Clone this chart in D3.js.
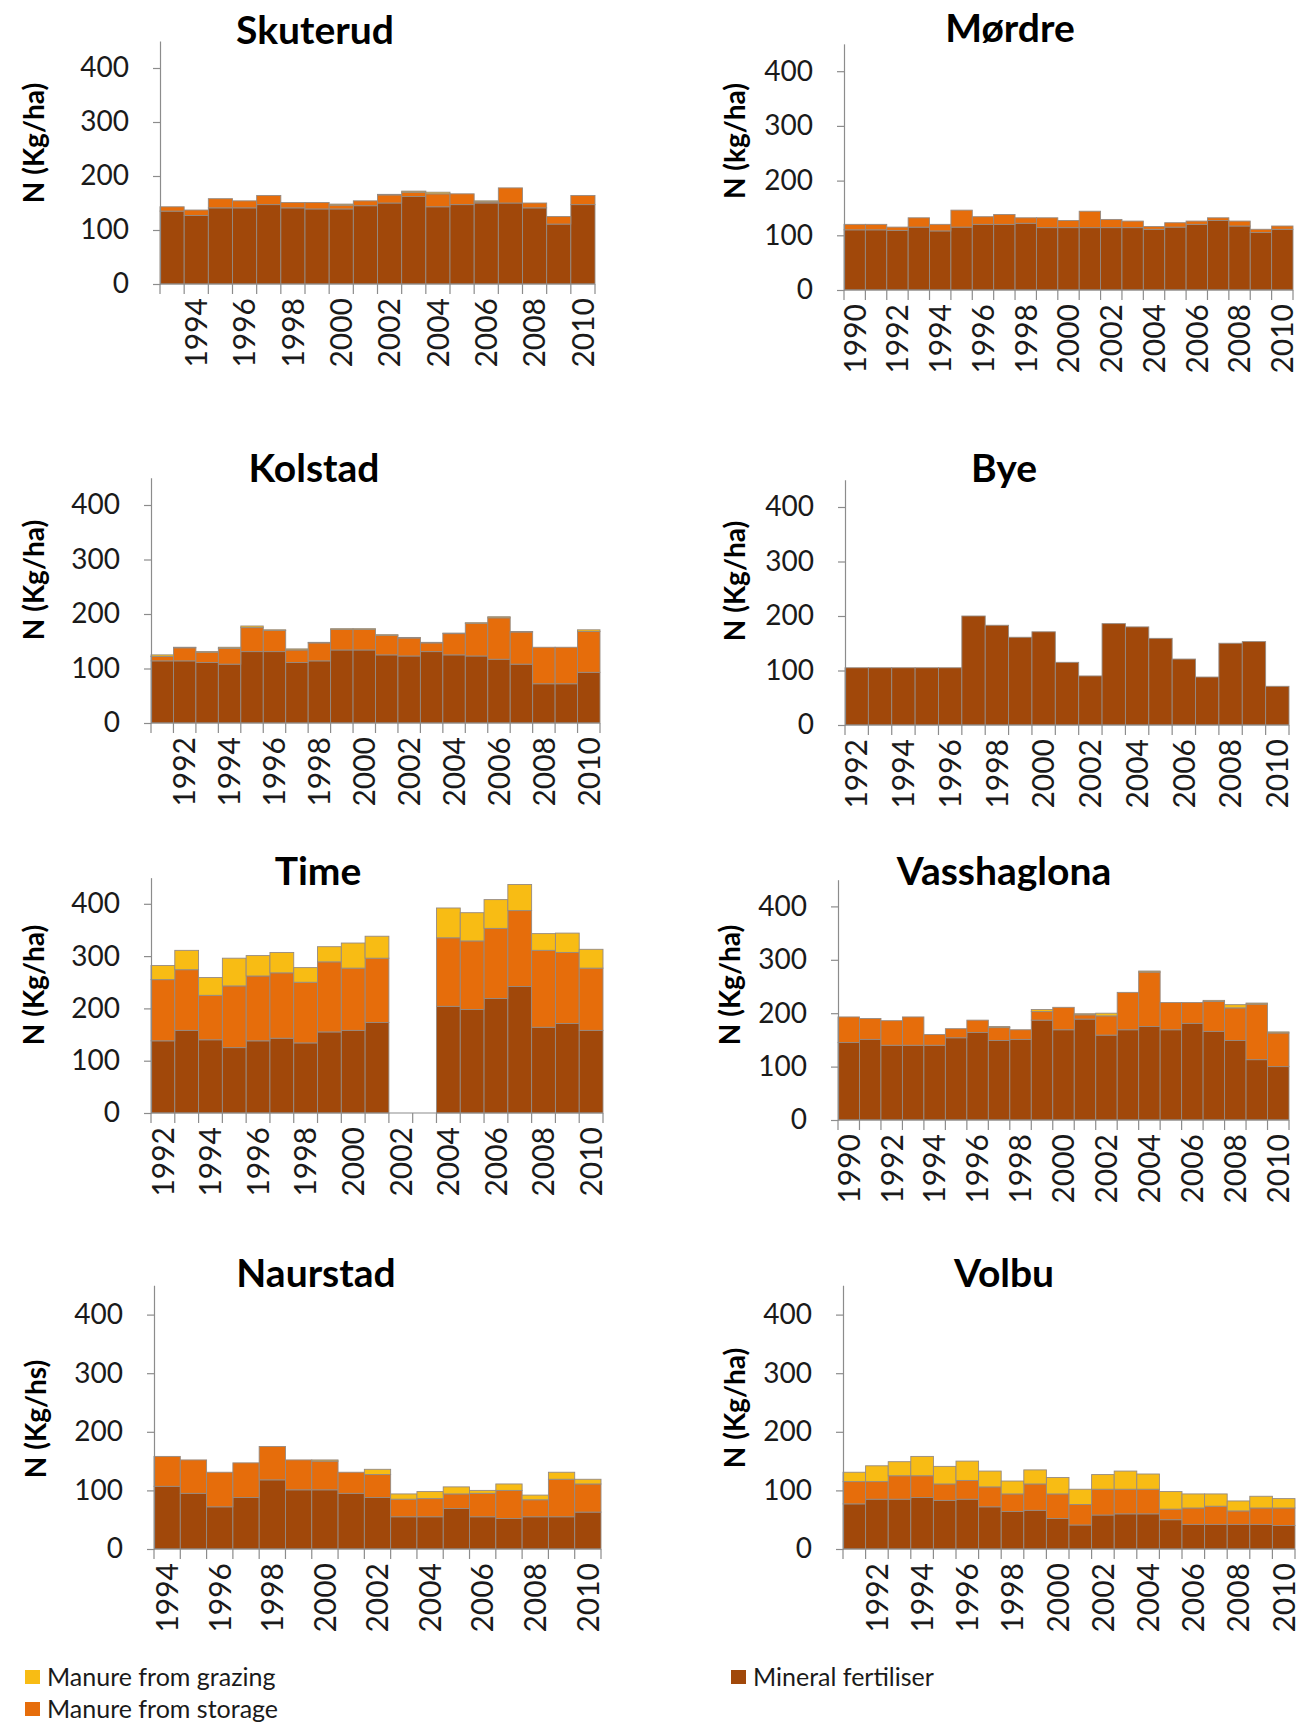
<!DOCTYPE html>
<html>
<head>
<meta charset="utf-8">
<script src="https://cdn.jsdelivr.net/npm/d3@7"></script>
<style>
  html, body { margin: 0; padding: 0; background: #fff; }
  svg { display: block; }
  text { font-family: Lato, "Open Sans", "DejaVu Sans", sans-serif; }
</style>
</head>
<body>
<svg id="chart" width="1310" height="1724"></svg>
<script>
// ---- Nitrogen inputs per catchment (kg N / ha), stacked by source ----
const seriesKeys = ["mineral", "storage", "grazing"];
const seriesNames = {
  grazing: "Manure from grazing",
  storage: "Manure from storage",
  mineral: "Mineral fertiliser"
};
const seriesColors = { grazing: "#F8BC14", storage: "#E66D0B", mineral: "#A1480A" };

// Skuterud
const skuterudYears   = [1993,1994,1995,1996,1997,1998,1999,2000,2001,2002,2003,2004,2005,2006,2007,2008,2009,2010];
const skuterudMineral = [135,127,141,141,147,141,139,139,145,150,162,143,147,150,150,141,111,147];
const skuterudStorage = [8,10,17,13,17,10,12,7,9,15,8,24,20,2,28,9,14,17];
const skuterudGrazing = [0,0,0,0,0,0,0,2,0,1,2,3,0,2,0,0,0,0];

// Mørdre
const mordreYears   = [1990,1991,1992,1993,1994,1995,1996,1997,1998,1999,2000,2001,2002,2003,2004,2005,2006,2007,2008,2009,2010];
const mordreMineral = [110,110,109,115,108,115,120,120,122,114,114,114,114,114,111,115,120,127,117,105,111];
const mordreStorage = [10,10,6,17,12,31,14,18,10,18,13,30,15,12,5,8,6,5,9,6,6];
const mordreGrazing = [0,0,0,0,0,0,0,0,0,0,0,0,0,0,0,0,0,0,0,0,0];

// Kolstad
const kolstadYears   = [1991,1992,1993,1994,1995,1996,1997,1998,1999,2000,2001,2002,2003,2004,2005,2006,2007,2008,2009,2010];
const kolstadMineral = [114,114,111,108,131,131,111,114,134,134,125,123,131,125,123,117,108,72,72,93];
const kolstadStorage = [8,24,19,29,44,39,23,33,38,38,36,33,16,39,60,76,59,67,67,75];
const kolstadGrazing = [3,1,1,2,3,1,2,1,1,1,1,1,1,1,1,2,1,0,0,3];

// Bye
const byeYears   = [1992,1993,1994,1995,1996,1997,1998,1999,2000,2001,2002,2003,2004,2005,2006,2007,2008,2009,2010];
const byeMineral = [105,105,105,105,105,200,183,161,171,115,90,186,180,159,121,88,150,153,71];
const byeStorage = [0,0,0,0,0,0,0,0,0,0,0,0,0,0,0,0,0,0,0];
const byeGrazing = [0,0,0,0,0,0,0,0,0,0,0,0,0,0,0,0,0,0,0];

// Time (no data for 2002 and 2003)
const timeYears   = [1992,1993,1994,1995,1996,1997,1998,1999,2000,2001,2002,2003,2004,2005,2006,2007,2008,2009,2010];
const timeMineral = [138,158,140,125,138,143,134,155,158,173,null,null,204,198,219,242,164,171,158];
const timeStorage = [117,116,85,118,124,125,116,134,119,123,null,null,131,131,134,145,147,136,119];
const timeGrazing = [27,37,34,53,39,39,28,29,48,42,null,null,57,54,55,50,32,37,36];

// Vasshaglona
const vassYears   = [1990,1991,1992,1993,1994,1995,1996,1997,1998,1999,2000,2001,2002,2003,2004,2005,2006,2007,2008,2009,2010];
const vassMineral = [145,151,140,140,140,154,164,149,151,187,169,189,159,169,175,169,181,166,149,113,100];
const vassStorage = [48,39,46,53,20,17,23,24,18,16,42,8,36,70,102,51,39,56,61,104,63];
const vassGrazing = [0,0,0,0,0,0,0,2,0,4,0,2,5,0,2,0,0,2,6,2,2];

// Naurstad
const naurYears   = [1994,1995,1996,1997,1998,1999,2000,2001,2002,2003,2004,2005,2006,2007,2008,2009,2010];
const naurMineral = [107,95,72,88,118,101,101,95,88,55,55,69,55,52,55,55,63];
const naurStorage = [51,57,59,59,57,51,49,36,39,30,31,25,40,48,29,64,48];
const naurGrazing = [0,0,0,0,0,0,2,0,9,9,12,12,5,11,8,12,8];

// Volbu
const volbuYears   = [1991,1992,1993,1994,1995,1996,1997,1998,1999,2000,2001,2002,2003,2004,2005,2006,2007,2008,2009,2010];
const volbuMineral = [77,85,85,88,83,85,72,64,66,52,41,58,60,60,50,42,42,42,42,40];
const volbuStorage = [38,30,40,37,28,32,34,30,45,42,35,44,42,42,18,28,31,23,28,30];
const volbuGrazing = [16,27,24,33,30,33,27,22,24,28,26,25,31,26,30,24,21,17,20,16];

const yTicks = [0, 100, 200, 300, 400];
const yMax = 450;

const sites = [
  { name: "Skuterud",    unit: "N (Kg/ha)", years: skuterudYears, mineral: skuterudMineral, storage: skuterudStorage, grazing: skuterudGrazing },
  { name: "Mørdre",      unit: "N (kg/ha)", years: mordreYears,   mineral: mordreMineral,   storage: mordreStorage,   grazing: mordreGrazing },
  { name: "Kolstad",     unit: "N (Kg/ha)", years: kolstadYears,  mineral: kolstadMineral,  storage: kolstadStorage,  grazing: kolstadGrazing },
  { name: "Bye",         unit: "N (Kg/ha)", years: byeYears,      mineral: byeMineral,      storage: byeStorage,      grazing: byeGrazing },
  { name: "Time",        unit: "N (Kg/ha)", years: timeYears,     mineral: timeMineral,     storage: timeStorage,     grazing: timeGrazing },
  { name: "Vasshaglona", unit: "N (Kg/ha)", years: vassYears,     mineral: vassMineral,     storage: vassStorage,     grazing: vassGrazing },
  { name: "Naurstad",    unit: "N (Kg/hs)", years: naurYears,     mineral: naurMineral,     storage: naurStorage,     grazing: naurGrazing },
  { name: "Volbu",       unit: "N (Kg/ha)", years: volbuYears,    mineral: volbuMineral,    storage: volbuStorage,    grazing: volbuGrazing }
];

// Panel frames: plot left/right edge, zero line, pixels per 100 units, title and axis-title anchors
const frames = [
  { left: 160, right: 595,  y0: 284,  per100: 54.0, titleX: 315,  titleY: 44,   unitX: 34,  unitY: 143 },
  { left: 844, right: 1293, y0: 290,  per100: 54.7, titleX: 1010, titleY: 42,   unitX: 735, unitY: 141 },
  { left: 151, right: 600,  y0: 723,  per100: 54.5, titleX: 314,  titleY: 482,  unitX: 34,  unitY: 580 },
  { left: 845, right: 1289, y0: 725,  per100: 54.5, titleX: 1004, titleY: 482,  unitX: 735, unitY: 581 },
  { left: 151, right: 603,  y0: 1113, per100: 52.3, titleX: 318,  titleY: 885,  unitX: 34,  unitY: 985 },
  { left: 838, right: 1289, y0: 1120, per100: 53.4, titleX: 1004, titleY: 885,  unitX: 730, unitY: 985 },
  { left: 154, right: 601,  y0: 1549, per100: 58.6, titleX: 316,  titleY: 1287, unitX: 36,  unitY: 1419 },
  { left: 843, right: 1295, y0: 1549, per100: 58.6, titleX: 1004, titleY: 1287, unitX: 735, unitY: 1408 }
];

const axisColor = "#8c8c8c";
const svg = d3.select("#chart");
svg.append("rect").attr("width", 1310).attr("height", 1724).attr("fill", "#fff");

sites.forEach((site, i) => {
  const f = frames[i];
  const g = svg.append("g").attr("class", "panel");

  const x = d3.scaleBand().domain(site.years).range([f.left, f.right]).padding(0);
  const y = d3.scaleLinear().domain([0, yMax]).range([f.y0, f.y0 - f.per100 * yMax / 100]);

  const rows = site.years.map((yr, k) => ({
    year: yr,
    mineral: site.mineral[k],
    storage: site.storage[k],
    grazing: site.grazing[k]
  })).filter(r => r.mineral !== null);

  const stacked = d3.stack().keys(seriesKeys)(rows);

  g.selectAll("g.layer").data(stacked).join("g")
    .attr("class", "layer")
    .attr("fill", d => seriesColors[d.key])
    .selectAll("rect")
    .data(d => d.filter(s => s[1] - s[0] > 0))
    .join("rect")
      .attr("x", s => x(s.data.year))
      .attr("width", x.bandwidth())
      .attr("y", s => y(s[1]))
      .attr("height", s => y(s[0]) - y(s[1]))
      .attr("stroke", "#958a82")
      .attr("stroke-width", 0.9);

  // value axis
  const yAxis = d3.axisLeft(y).tickValues(yTicks).tickSize(7).tickSizeOuter(0).tickPadding(24);
  const ya = g.append("g").attr("transform", `translate(${f.left},0)`).call(yAxis);
  ya.select(".domain").attr("stroke", axisColor).attr("stroke-width", 1.2);
  ya.selectAll(".tick line").attr("stroke", axisColor).attr("stroke-width", 1.2);
  ya.selectAll(".tick text")
    .attr("fill", "#1a1a1a")
    .style("font-size", "28px");

  // category axis: boundary ticks between years, labels on even years
  const xa = g.append("g").attr("transform", `translate(0,${f.y0})`);
  xa.append("line")
    .attr("x1", f.left).attr("x2", f.right)
    .attr("stroke", axisColor).attr("stroke-width", 1.2);
  const edges = site.years.map(yr => x(yr)).concat([x(site.years[site.years.length - 1]) + x.bandwidth()]);
  xa.selectAll("line.edge").data(edges).join("line")
    .attr("class", "edge")
    .attr("x1", d => d).attr("x2", d => d)
    .attr("y1", 0).attr("y2", 10)
    .attr("stroke", axisColor).attr("stroke-width", 1.2);

  const labelYears = site.years.filter(yr => yr % 2 === 0);
  const xAxis = d3.axisBottom(x).tickValues(labelYears).tickSize(0);
  const xl = g.append("g").attr("transform", `translate(0,${f.y0})`).call(xAxis);
  xl.select(".domain").remove();
  xl.selectAll(".tick text")
    .attr("transform", "rotate(-90)")
    .attr("x", -14).attr("y", 0).attr("dy", "0.36em")
    .style("text-anchor", "end")
    .attr("fill", "#1a1a1a")
    .style("font-size", "30px");

  // titles
  g.append("text")
    .attr("x", f.titleX).attr("y", f.titleY)
    .attr("text-anchor", "middle")
    .style("font-size", "39px").style("font-weight", "700")
    .attr("fill", "#000")
    .text(site.name);

  g.append("text")
    .attr("transform", `translate(${f.unitX},${f.unitY}) rotate(-90)`)
    .attr("text-anchor", "middle")
    .attr("dy", "0.35em")
    .style("font-size", "28px").style("font-weight", "700")
    .attr("fill", "#000")
    .text(site.unit);
});

// legend
const legendItems = [
  { key: "grazing", x: 25,  y: 1677 },
  { key: "mineral", x: 731, y: 1677 },
  { key: "storage", x: 25,  y: 1709 }
];
const lg = svg.append("g").attr("class", "legend");
lg.selectAll("rect").data(legendItems).join("rect")
  .attr("x", d => d.x).attr("y", d => d.y - 7)
  .attr("width", 15).attr("height", 14)
  .attr("fill", d => seriesColors[d.key]);
lg.selectAll("text").data(legendItems).join("text")
  .attr("x", d => d.x + 22).attr("y", d => d.y)
  .attr("dy", "0.35em")
  .style("font-size", "25px")
  .attr("fill", "#1a1a1a")
  .text(d => seriesNames[d.key]);
</script>
</body>
</html>
